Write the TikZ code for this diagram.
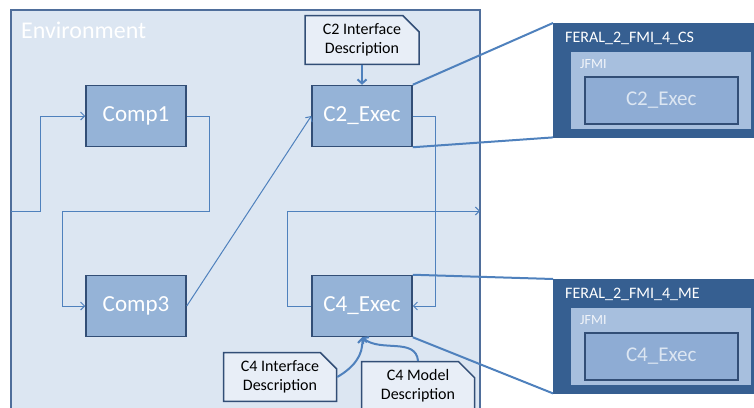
\documentclass[tikz,border=0pt]{standalone}
\usepackage{fontspec}
\setmainfont{Carlito}
\usetikzlibrary{arrows.meta,shapes.misc,positioning}

\definecolor{envfill}{RGB}{220,230,242}
\definecolor{envline}{RGB}{79,110,155}
\definecolor{compfill}{RGB}{149,179,215}
\definecolor{compline}{RGB}{50,78,118}
\definecolor{flowline}{RGB}{79,129,189}
\definecolor{descfill}{RGB}{232,238,247}
\definecolor{feralfill}{RGB}{54,95,145}
\definecolor{jfmifill}{RGB}{167,191,222}
\definecolor{innerfill}{RGB}{142,172,212}

\def\compw{100pt}
\def\comph{61pt}

\begin{document}
\begin{tikzpicture}
    [
        x=1pt, y=-1pt,
        envbox/.style={fill=envfill, draw=envline, line width=1.5pt},
        comp/.style={rectangle, fill=compfill, draw=compline, line width=1.5pt,
            minimum width=\compw, minimum height=\comph, text=white,
            font=\fontsize{23}{26}\selectfont},
        desc/.style={chamfered rectangle, chamfered rectangle corners=north east,
            chamfered rectangle xsep=8pt, chamfered rectangle ysep=8pt,
            fill=descfill, draw=compline, line width=1.5pt, inner sep=0pt,
            minimum width=113pt, minimum height=45pt, align=center,
            font=\fontsize{16}{19}\selectfont},
        flow/.style={draw=flowline, line width=1pt,
            -{Straight Barb[length=4pt,width=8pt]}},
        descflow/.style={draw=flowline, line width=2pt,
            -{Straight Barb[length=4pt,width=9pt]}},
        zoomline/.style={draw=flowline, line width=2pt},
        feral/.style={rectangle, anchor=north west, fill=feralfill, draw=feralfill,
            minimum width=215pt, minimum height=114pt},
        jfmi/.style={rectangle, anchor=north west, fill=jfmifill, draw=jfmifill,
            minimum width=179pt, minimum height=76pt},
        inner/.style={rectangle, anchor=north west, fill=innerfill, draw=compline,
            line width=1.5pt, minimum width=153pt, minimum height=47pt,
            text=envfill, font=\fontsize{21}{24}\selectfont},
        tag/.style={anchor=north west, inner sep=0pt, text=white,
            font=\fontsize{16}{18}\selectfont}
    ]
    \clip (0,0) rectangle (754,407);

    % the environment
    \draw[envbox] (11,10) rectangle (480,415);
    \node[anchor=west, inner sep=0pt, text=white, font=\fontsize{24}{26}\selectfont]
        (envlabel) at (21,30) {Environment};
    \coordinate (inL) at (11,211);
    \coordinate (outR) at (480,211);

    \node[comp] (comp1) at (136,116) {Comp1};
    \node[comp] (comp3) at (136,306) {Comp3};
    \node[comp] (c2) at (362,116) {C2\_Exec};
    \node[comp] (c4) at (362,306) {C4\_Exec};

    \node[desc, minimum width=114pt] (d2) at (362,40) {C2 Interface\\Description};
    \node[desc] (d4i) at (280,377) {C4 Interface\\Description};
    \node[desc, minimum height=48pt] (d4m) at (418,386) {C4 Model\\Description};

    % data flow
    \draw[flow] (inL) -- ++(29,0) |- (comp1.west);
    \draw[flow] (comp1.east) -- ++(23,0) |- (62,211) |- (comp3.west);
    \draw[flow] (comp3.east) -- (c2.west);
    \draw[flow] (c2.east) -- ++(23,0) |- (c4.east);
    \draw[flow] (c4.west) -- ++(-24,0) |- (outR);

    \draw[descflow] (d2.south) -- (c2.north);
    \draw[descflow] (d4i.east) to[out=30, in=-85] (c4.south);
    \draw[descflow] (d4m.north) to[out=95, in=-40] (c4.south);

    % wrapped executables
    \node[feral] (cs) at (553,23) {};
    \node[tag] (cslabel) at ([xshift=12pt, yshift=-9pt]cs.north west) {FERAL\_2\_FMI\_4\_CS};
    \node[jfmi] (csjfmi) at (571,52) {};
    \node[tag, text=white!85!jfmifill, font=\fontsize{14}{16}\selectfont]
        (csjlabel) at ([xshift=9pt, yshift=-7pt]csjfmi.north west) {JFMI};
    \node[inner] (csexec) at (584,76) {C2\_Exec};

    \node[feral] (me) at (553,279) {};
    \node[tag] (melabel) at ([xshift=12pt, yshift=-9pt]me.north west) {FERAL\_2\_FMI\_4\_ME};
    \node[jfmi] (mejfmi) at (571,308) {};
    \node[tag, text=white!85!jfmifill, font=\fontsize{14}{16}\selectfont]
        (mejlabel) at ([xshift=9pt, yshift=-7pt]mejfmi.north west) {JFMI};
    \node[inner] (meexec) at (584,332) {C4\_Exec};

    \draw[zoomline] (c2.north east) -- (cs.north west);
    \draw[zoomline] (c2.south east) -- (cs.south west);
    \draw[zoomline] (c4.north east) -- (me.north west);
    \draw[zoomline] (c4.south east) -- (me.south west);
\end{tikzpicture}
\end{document}
